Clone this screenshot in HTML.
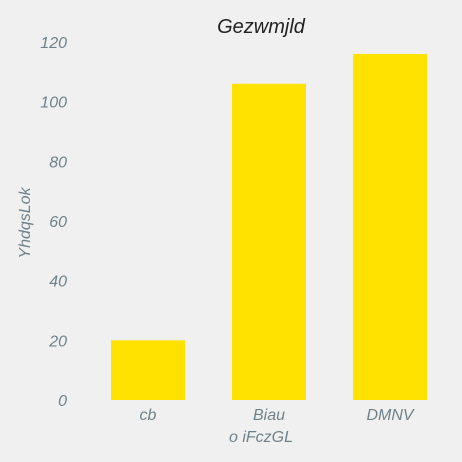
<!DOCTYPE html>
<html><head><meta charset="utf-8"><style>
html,body{margin:0;padding:0;background:#f0f0f0;}
svg{display:block;font-family:"Liberation Sans",sans-serif;}
.t{fill:#6e818b;font-style:italic;font-size:16px;}
</style></head><body>
<svg id="c" width="462" height="462">
<text x="261" y="33" text-anchor="middle" font-size="20" font-style="italic" fill="#222">Gezwmjld</text>
<text class="t" x="261" y="442" text-anchor="middle">o iFczGL</text>
<text class="t" transform="translate(30,223) rotate(-90)" text-anchor="middle">YhdqsLok</text>
</svg>
<script>
const categories=["cb","Biau","DMNV"];
const values=[20,106,116];
const yTicks=[0,20,40,60,80,100,120];
const svg=document.getElementById('c');
const NS="http://www.w3.org/2000/svg";
const x0=87.5,step=121,bw=74,yb=400,yt=42,ymax=120;
const y=v=>yb-(v/ymax)*(yb-yt);
const xc=i=>x0+step*(i+0.5);
yTicks.forEach(t=>{
 const e=document.createElementNS(NS,'text');
 e.setAttribute('class','t');e.setAttribute('x',67);e.setAttribute('y',y(t)+6);
 e.setAttribute('text-anchor','end');e.textContent=t;
 
 
 svg.appendChild(e);
});
categories.forEach((c,i)=>{
 const r=document.createElementNS(NS,'rect');
 r.setAttribute('x',xc(i)-bw/2);r.setAttribute('width',bw);
 r.setAttribute('y',y(values[i]));r.setAttribute('height',yb-y(values[i]));
 r.setAttribute('fill','#ffe200');
 
 
 svg.appendChild(r);
 const e=document.createElementNS(NS,'text');
 e.setAttribute('class','t');e.setAttribute('x',xc(i));e.setAttribute('y',420);
 e.setAttribute('text-anchor','middle');e.textContent=c;
 
 
 svg.appendChild(e);
});
</script>
</body></html>
